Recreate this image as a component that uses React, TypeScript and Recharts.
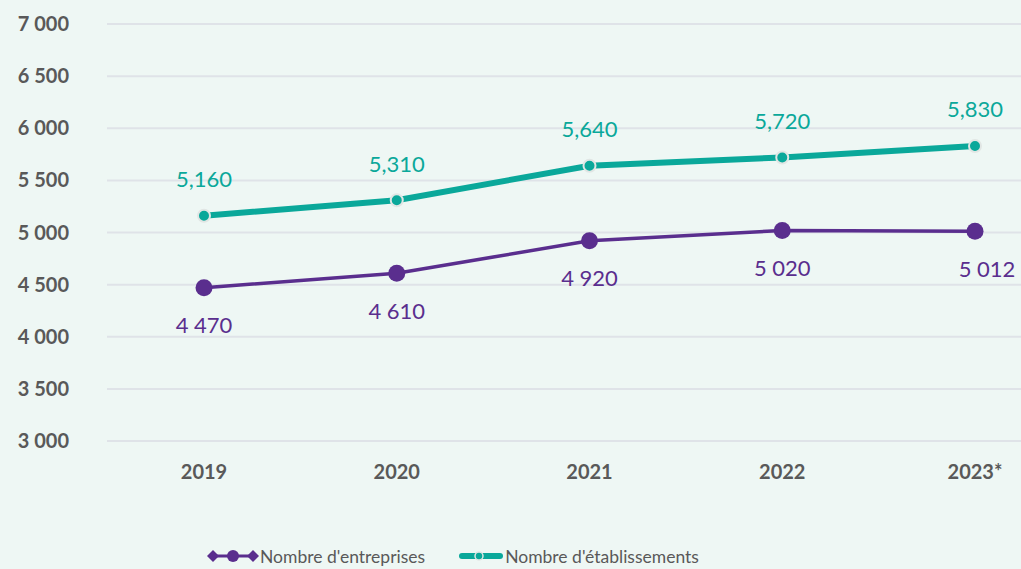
import { LineChart, Line, XAxis, YAxis, CartesianGrid, LabelList } from 'recharts'

const years = ['2019', '2020', '2021', '2022', '2023*']
const entreprises = [4470, 4610, 4920, 5020, 5012]
const etablissements = [5160, 5310, 5640, 5720, 5830]
const yTicks = [3000, 3500, 4000, 4500, 5000, 5500, 6000, 6500, 7000]

const PURPLE = '#5a2e8e'
const TEAL = '#0aa89a'
const GREY_TEXT = '#595959'
const FONT = 'Lato, "Open Sans", sans-serif'

const data = years.map((year, i) => ({
  year,
  entreprises: entreprises[i],
  etablissements: etablissements[i],
}))

const spaced = (v: number) => String(v).replace(/\B(?=(\d{3})+(?!\d))/g, ' ')
const commas = (v: number) => String(v).replace(/\B(?=(\d{3})+(?!\d))/g, ',')

function TealLabel(props: any) {
  const { x, y, value } = props
  return (
    <text x={x} y={y - 37} textAnchor="middle" dominantBaseline="central" fill={TEAL} fontSize={22} fontFamily={FONT}>
      {commas(value)}
    </text>
  )
}

function PurpleLabel(props: any) {
  const { x, y, value, index } = props
  const dx = index === years.length - 1 ? 12 : 0
  return (
    <text x={x + dx} y={y + 37} textAnchor="middle" dominantBaseline="central" fill={PURPLE} fontSize={22} fontFamily={FONT}>
      {spaced(value)}
    </text>
  )
}

function ChartLegend() {
  return (
    <div
      style={{
        position: 'absolute',
        left: 207,
        top: 544,
        display: 'flex',
        alignItems: 'center',
        fontFamily: FONT,
        fontSize: 17.5,
        color: GREY_TEXT,
        whiteSpace: 'nowrap',
      }}
    >
      <svg width={52} height={24}>
        <line x1={6} y1={12} x2={46} y2={12} stroke={PURPLE} strokeWidth={3} />
        <path d="M0 12 L6 6 L12 12 L6 18 Z" fill={PURPLE} />
        <path d="M40 12 L46 6 L52 12 L46 18 Z" fill={PURPLE} />
        <circle cx={26} cy={12} r={6} fill={PURPLE} />
      </svg>
      <span style={{ marginLeft: 1 }}>Nombre d'entreprises</span>
      <svg width={44} height={24} style={{ marginLeft: 34 }}>
        <line x1={3} y1={12} x2={41} y2={12} stroke={TEAL} strokeWidth={6} strokeLinecap="round" />
        <circle cx={20} cy={12} r={4} fill={TEAL} stroke="#e1e6e4" strokeWidth={1.5} />
      </svg>
      <span style={{ marginLeft: 2 }}>Nombre d'établissements</span>
    </div>
  )
}

export default function App() {
  return (
    <div
      style={{
        position: 'absolute',
        left: 0,
        top: 0,
        width: 1021,
        height: 569,
        overflow: 'hidden',
        background: '#eef7f4',
      }}
    >
      <LineChart width={1021} height={569} data={data} margin={{ top: 24, right: 0, bottom: 78, left: 0 }}>
        <CartesianGrid horizontal vertical={false} stroke="#dfe3e8" strokeWidth={2} />
        <XAxis
          dataKey="year"
          axisLine={false}
          tickLine={false}
          tickSize={0}
          tickMargin={24}
          height={50}
          padding={{ left: 97, right: 46 }}
          tick={{ fontSize: 20, fontWeight: 700, fill: GREY_TEXT, fontFamily: FONT }}
        />
        <YAxis
          type="number"
          domain={[3000, 7000]}
          ticks={yTicks}
          width={107}
          axisLine={false}
          tickLine={false}
          tickSize={0}
          tickMargin={38}
          tickFormatter={spaced}
          tick={{ fontSize: 20, fontWeight: 700, fill: GREY_TEXT, fontFamily: FONT }}
        />
        <Line
          dataKey="etablissements"
          stroke={TEAL}
          strokeWidth={6}
          dot={{ r: 6, fill: TEAL, stroke: '#e1e6e4', strokeWidth: 2 }}
          activeDot={false}
          isAnimationActive={false}
        >
          <LabelList dataKey="etablissements" content={TealLabel} />
        </Line>
        <Line
          dataKey="entreprises"
          stroke={PURPLE}
          strokeWidth={3.5}
          dot={{ r: 8.5, fill: PURPLE, stroke: PURPLE, strokeWidth: 0 }}
          activeDot={false}
          isAnimationActive={false}
        >
          <LabelList dataKey="entreprises" content={PurpleLabel} />
        </Line>
      </LineChart>
      <ChartLegend />
    </div>
  )
}
